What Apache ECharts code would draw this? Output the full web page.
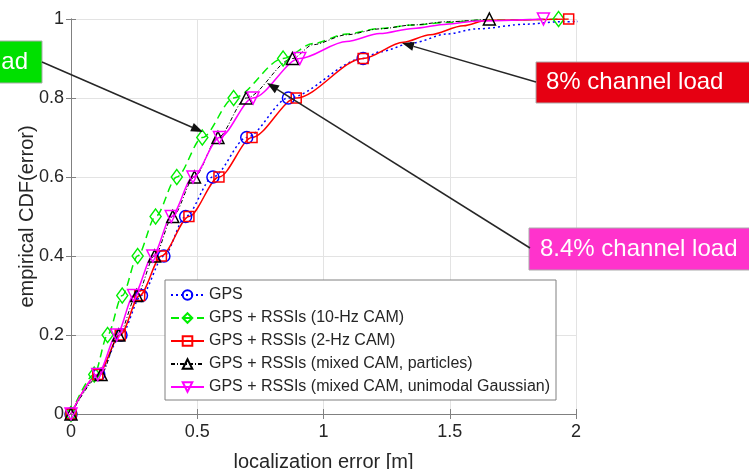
<!DOCTYPE html>
<html>
<head>
<meta charset="utf-8">
<script src="https://cdn.jsdelivr.net/npm/echarts@6/dist/echarts.min.js"></script>
<style>
html, body { margin: 0; padding: 0; background: #fff; }
#chart { width: 749px; height: 469px; }
</style>
</head>
<body>
<div id="chart"></div>
<script>
const cdfLevels = [0, 0.1, 0.2, 0.3, 0.4, 0.5, 0.6, 0.7, 0.8, 0.9, 1];

// localization error [m] at each CDF level (marker positions)
const gpsErr      = [0, 0.11, 0.198, 0.279, 0.368, 0.454, 0.562, 0.696, 0.861, 1.157, 2.25];
const rssi10Err   = [0, 0.092, 0.145, 0.203, 0.264, 0.335, 0.419, 0.52, 0.644, 0.84, 1.931];
const rssi2Err    = [0, 0.106, 0.195, 0.272, 0.358, 0.467, 0.586, 0.717, 0.892, 1.157, 1.971];
const particleErr = [0, 0.119, 0.189, 0.26, 0.331, 0.403, 0.489, 0.582, 0.694, 0.877, 1.657];
const gaussErr    = [0, 0.106, 0.181, 0.248, 0.324, 0.397, 0.483, 0.588, 0.721, 0.906, 1.871];

// extra points read along the upper tails (no marker drawn)
const gpsTailErr = [1.223, 1.356, 1.488, 1.607, 1.806, 1.938];
const gpsTailCdf = [0.917, 0.94, 0.962, 0.975, 0.987, 0.993];
const rssi10TailErr = [0.959, 1.091, 1.223, 1.355, 1.488, 1.62];
const rssi10TailCdf = [0.938, 0.962, 0.976, 0.985, 0.991, 0.997];
const rssi2TailErr = [1.316, 1.422, 1.554, 1.647];
const rssi2TailCdf = [0.941, 0.96, 0.983, 0.997];
const particleTailErr = [0.959, 1.091, 1.223, 1.355, 1.488];
const particleTailCdf = [0.935, 0.96, 0.975, 0.985, 0.993];
const gaussTailErr = [1.091, 1.223, 1.355, 1.488, 1.607];
const gaussTailCdf = [0.943, 0.963, 0.976, 0.987, 0.995];

const xTicks = [0, 0.5, 1, 1.5, 2];
const yTicks = [0, 0.2, 0.4, 0.6, 0.8, 1];

const font = 'Liberation Sans, Arial, Helvetica, sans-serif';
const textColor = '#262626';

function buildData(err, tailErr, tailCdf) {
  const pts = err.map((x, i) => ({ value: [x, cdfLevels[i]] }));
  tailErr.forEach((x, i) => pts.push({ value: [x, tailCdf[i]], symbol: 'none' }));
  return pts.sort((a, b) => a.value[0] - b.value[0]);
}

function makeSeries(name, data, color, symbol, size, dash, width, rotate) {
  return {
    name: name,
    type: 'line',
    data: data,
    smooth: 0.3,
    smoothMonotone: 'x',
    symbol: symbol,
    symbolSize: size,
    symbolRotate: rotate || 0,
    lineStyle: { color: color, width: width, type: dash },
    itemStyle: { color: 'rgba(255,255,255,0)', borderColor: color, borderWidth: 1.5 },
    emphasis: { disabled: true },
    animation: false,
    z: 3
  };
}

// annotation arrow: line + filled head
function arrow(x1, y1, x2, y2) {
  const a = Math.atan2(y2 - y1, x2 - x1);
  const L = 12, W = 4.5;
  const bx = x2 - L * Math.cos(a), by = y2 - L * Math.sin(a);
  return [
    { type: 'line', shape: { x1: x1, y1: y1, x2: bx, y2: by },
      style: { stroke: '#262626', lineWidth: 1.5 }, z: 20 },
    { type: 'polygon', shape: { points: [[x2, y2],
        [bx + W * Math.sin(a), by - W * Math.cos(a)],
        [bx - W * Math.sin(a), by + W * Math.cos(a)]] },
      style: { fill: '#111' }, z: 20 }
  ];
}

function labelBox(x, y, w, h, fill, text, tx, align) {
  return [
    { type: 'rect', shape: { x: x, y: y, width: w, height: h },
      style: { fill: fill, stroke: '#aaa', lineWidth: 1 }, z: 19 },
    { type: 'text', x: tx, y: y + h / 2,
      style: { text: text, fill: '#fff', font: '24px ' + font,
               textVerticalAlign: 'middle', textAlign: align }, z: 21 }
  ];
}

const chart = echarts.init(document.getElementById('chart'));

const axisLine = { show: true, lineStyle: { color: '#808080', width: 1 } };

chart.setOption({
  backgroundColor: '#fff',
  animation: false,
  grid: { left: 71, right: 173, top: 19, bottom: 55, outerBoundsMode: 'none', containLabel: false },
  legend: {
    orient: 'vertical',
    left: 165,
    top: 280,
    backgroundColor: '#fff',
    borderColor: '#808080',
    borderWidth: 1,
    padding: [6, 6, 4, 5],
    itemWidth: 33,
    itemHeight: 12,
    itemGap: 5,
    textStyle: { fontSize: 16, color: textColor, fontFamily: font, lineHeight: 18 },
    z: 10
  },
  xAxis: [{
    type: 'value', min: 0, max: 2, interval: 0.5,
    name: 'localization error [m]', nameLocation: 'middle', nameGap: 38,
    nameMoveOverlap: false,
    nameTextStyle: { fontSize: 20, color: textColor, fontFamily: font },
    axisLine: axisLine,
    axisTick: { show: true, inside: true, length: 5, lineStyle: { color: '#808080' } },
    axisLabel: { fontSize: 18, color: textColor, fontFamily: font, margin: 9,
                 customValues: xTicks },
    splitLine: { show: true, lineStyle: { color: '#e3e3e3', width: 1 } }
  }, {
    type: 'value', min: 0, max: 2, interval: 0.5, position: 'top',
    axisLine: axisLine,
    axisTick: { show: true, inside: true, length: 5, lineStyle: { color: '#808080' } },
    axisLabel: { show: false }, splitLine: { show: false }
  }],
  yAxis: [{
    type: 'value', min: 0, max: 1, interval: 0.2,
    name: 'empirical CDF(error)', nameLocation: 'middle', nameGap: 34,
    nameMoveOverlap: false,
    nameTextStyle: { fontSize: 20, color: textColor, fontFamily: font },
    axisLine: axisLine,
    axisTick: { show: true, inside: true, length: 5, lineStyle: { color: '#808080' } },
    axisLabel: { fontSize: 18, color: textColor, fontFamily: font, margin: 7,
                 customValues: yTicks },
    splitLine: { show: true, lineStyle: { color: '#e3e3e3', width: 1 } }
  }, {
    type: 'value', min: 0, max: 1, interval: 0.2, position: 'right',
    axisLine: axisLine,
    axisTick: { show: true, inside: true, length: 5, lineStyle: { color: '#808080' } },
    axisLabel: { show: false }, splitLine: { show: false }
  }],
  series: [
    makeSeries('GPS', buildData(gpsErr, gpsTailErr, gpsTailCdf),
               '#0000ff', 'circle', 12, [2, 3], 1.5),
    makeSeries('GPS + RSSIs (10-Hz CAM)', buildData(rssi10Err, rssi10TailErr, rssi10TailCdf),
               '#00ee00', 'diamond', [11, 15], [8, 5], 1.5),
    makeSeries('GPS + RSSIs (2-Hz CAM)', buildData(rssi2Err, rssi2TailErr, rssi2TailCdf),
               '#ff0000', 'rect', 10, 'solid', 1.5),
    makeSeries('GPS + RSSIs (mixed CAM, particles)', buildData(particleErr, particleTailErr, particleTailCdf),
               '#000000', 'triangle', 12, [4, 2, 1, 2], 1),
    makeSeries('GPS + RSSIs (mixed CAM, unimodal Gaussian)', buildData(gaussErr, gaussTailErr, gaussTailCdf),
               '#ff00ff', 'triangle', 12, 'solid', 1.5, 180)
  ],
  graphic: [].concat(
    arrow(42, 62, 203, 132),
    arrow(536, 82, 402, 43),
    arrow(530, 248, 267, 83),
    labelBox(-10, 41, 52, 42, '#00e000', 'ad', 28, 'right'),
    labelBox(536, 62, 230, 41, '#e60012', '8% channel load', 546, 'left'),
    labelBox(529, 228, 240, 42, '#ff33cc', '8.4% channel load', 540, 'left')
  )
});
</script>
</body>
</html>
